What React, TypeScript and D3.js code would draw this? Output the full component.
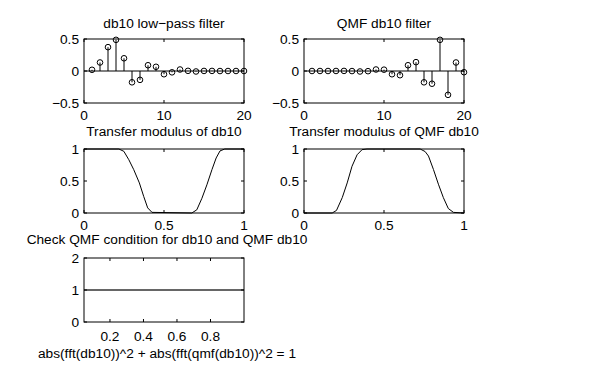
import React from "react";
import * as d3 from "d3";

// ---- data ----
const taps = d3.range(1, 21);
const db10 = [0.0189, 0.1331, 0.3728, 0.4868, 0.1988, -0.1767, -0.1386, 0.0901, 0.0658, -0.0505,
  -0.0208, 0.0235, 0.0026, -0.0076, 0.001, 0.0014, -0.0005, -0.0001, 0.0001, 0.0];
const qmfDb10 = [0.0, 0.0001, -0.0001, 0.0005, 0.0014, -0.001, -0.0076, -0.0026, 0.0235, 0.0208,
  -0.0505, -0.0658, 0.0901, 0.1386, -0.1767, -0.1988, 0.4868, -0.3728, 0.1331, -0.0189];

const lowFreq = [0, 0.218, 0.249, 0.28, 0.311, 0.346, 0.373, 0.398, 0.425, 0.674, 0.705, 0.737, 0.768, 0.8, 0.826, 0.85, 0.88, 1];
const lowMod = [1, 1, 0.964, 0.833, 0.677, 0.47, 0.26, 0.08, 0.01, 0, 0.05, 0.23, 0.44, 0.68, 0.86, 0.97, 1, 1];
const qmfFreq = [0, 0.176, 0.203, 0.239, 0.27, 0.3, 0.332, 0.363, 0.394, 0.726, 0.757, 0.778, 0.809, 0.84, 0.871, 0.902, 0.934, 1];
const qmfMod = [0, 0, 0.04, 0.24, 0.47, 0.73, 0.91, 0.99, 1, 1, 0.96, 0.89, 0.68, 0.45, 0.24, 0.07, 0.01, 0];

const checkFreq = [0.045, 1];
const checkSum = [1, 1];

const stemXTicks = [0, 10, 20];
const stemYTicks = [-0.5, 0, 0.5];
const modXTicks = [0, 0.5, 1];
const modYTicks = [0, 0.5, 1];
const checkXTicks = [0.2, 0.4, 0.6, 0.8];
const checkYTicks = [0, 1, 2];

const titles = [
  "db10 low\u2212pass filter",
  "QMF db10 filter",
  "Transfer modulus of db10",
  "Transfer modulus of QMF db10",
  "Check QMF condition for db10 and QMF db10",
];
const checkLabel = "abs(fft(db10))^2 + abs(fft(qmf(db10))^2 = 1";

const FONT = "'Liberation Sans', Arial, Helvetica, sans-serif";
const FS = 13.7;
const COL = [84, 304];
const W = 160;
const ROW = [39, 149, 258];
const H = 64;
const TICK = 3;

type Box = { x0: number; y0: number };

function Axes({ box, xs, ys, xticks, yticks, xfmt, yfmt, title, xlabelGap = 17, titleGap = 11, titleDx = 0, children }: any) {
  const { x0, y0 } = box as Box;
  return (
    <g>
      {children}
      <rect x={x0} y={y0} width={W} height={H} fill="none" stroke="#000" strokeWidth={1} />
      {xticks.map((t: number) => (
        <g key={"x" + t}>
          <line x1={xs(t)} x2={xs(t)} y1={y0 + H} y2={y0 + H - TICK} stroke="#000" />
          <line x1={xs(t)} x2={xs(t)} y1={y0} y2={y0 + TICK} stroke="#000" />
          <text x={xs(t)} y={y0 + H + xlabelGap} textAnchor="middle" fontSize={FS} fontFamily={FONT}>
            {xfmt(t)}
          </text>
        </g>
      ))}
      {yticks.map((t: number) => (
        <g key={"y" + t}>
          <line x1={x0} x2={x0 + TICK} y1={ys(t)} y2={ys(t)} stroke="#000" />
          <line x1={x0 + W} x2={x0 + W - TICK} y1={ys(t)} y2={ys(t)} stroke="#000" />
          <text x={x0 - 5} y={ys(t)} dy="0.35em" textAnchor="end" fontSize={FS} fontFamily={FONT}>
            {yfmt(t)}
          </text>
        </g>
      ))}
      <text x={x0 + W / 2 + titleDx} y={y0 - titleGap} textAnchor="middle" fontSize={FS} fontFamily={FONT}>
        {title}
      </text>
    </g>
  );
}

const fmt = (t: number) => (t < 0 ? "\u2212" + Math.abs(t) : String(t));

function StemPanel({ box, values, title }: any) {
  const xs = d3.scaleLinear().domain([0, 20]).range([box.x0, box.x0 + W]);
  const ys = d3.scaleLinear().domain([-0.5, 0.5]).range([box.y0 + H, box.y0]);
  return (
    <Axes box={box} xs={xs} ys={ys} xticks={stemXTicks} yticks={stemYTicks} xfmt={fmt} yfmt={fmt} title={title}>
      <line x1={box.x0} x2={box.x0 + W} y1={ys(0)} y2={ys(0)} stroke="#000" />
      {values.map((v: number, i: number) => (
        <g key={i}>
          <line x1={xs(taps[i])} x2={xs(taps[i])} y1={ys(0)} y2={ys(v)} stroke="#000" />
          <circle cx={xs(taps[i])} cy={ys(v)} r={2.8} fill="none" stroke="#000" />
        </g>
      ))}
    </Axes>
  );
}

function LinePanel({ box, fx, fy, xdom, ydom, xticks, yticks, title, xlabelGap, titleGap, titleDx, lineW = 1, lineC = "#000" }: any) {
  const xs = d3.scaleLinear().domain(xdom).range([box.x0, box.x0 + W]);
  const ys = d3.scaleLinear().domain(ydom).range([box.y0 + H, box.y0]);
  const pts = fx.map((x: number, i: number) => [x, fy[i]] as [number, number]);
  const path = d3.line<[number, number]>().x((d) => xs(d[0])).y((d) => ys(d[1]))(pts) || "";
  return (
    <Axes box={box} xs={xs} ys={ys} xticks={xticks} yticks={yticks} xfmt={fmt} yfmt={fmt} title={title}
      xlabelGap={xlabelGap} titleGap={titleGap} titleDx={titleDx}>
      <path d={path} fill="none" stroke={lineC} strokeWidth={lineW} />
    </Axes>
  );
}

export default function App() {
  return (
    <svg width={600} height={376} style={{ position: "absolute", left: 0, top: 0, background: "#fff" }}>
      <rect width={600} height={376} fill="#fff" />
      <StemPanel box={{ x0: COL[0], y0: ROW[0] }} values={db10} title={titles[0]} />
      <StemPanel box={{ x0: COL[1], y0: ROW[0] }} values={qmfDb10} title={titles[1]} />
      <LinePanel box={{ x0: COL[0], y0: ROW[1] }} fx={lowFreq} fy={lowMod} xdom={[0, 1]} ydom={[0, 1]}
        xticks={modXTicks} yticks={modYTicks} title={titles[2]} titleGap={13} />
      <LinePanel box={{ x0: COL[1], y0: ROW[1] }} fx={qmfFreq} fy={qmfMod} xdom={[0, 1]} ydom={[0, 1]}
        xticks={modXTicks} yticks={modYTicks} title={titles[3]} titleGap={13} />
      <LinePanel box={{ x0: COL[0], y0: ROW[2] }} fx={checkFreq} fy={checkSum} xdom={[0.045, 1]} ydom={[0, 2]}
        xticks={checkXTicks} yticks={checkYTicks} title={titles[4]} xlabelGap={19} titleGap={14} titleDx={3}
        lineW={1.5} lineC="#333" />
      <text x={COL[0] + W / 2 + 3} y={ROW[2] + H + 36} textAnchor="middle" fontSize={FS} fontFamily={FONT}>
        {checkLabel}
      </text>
    </svg>
  );
}
